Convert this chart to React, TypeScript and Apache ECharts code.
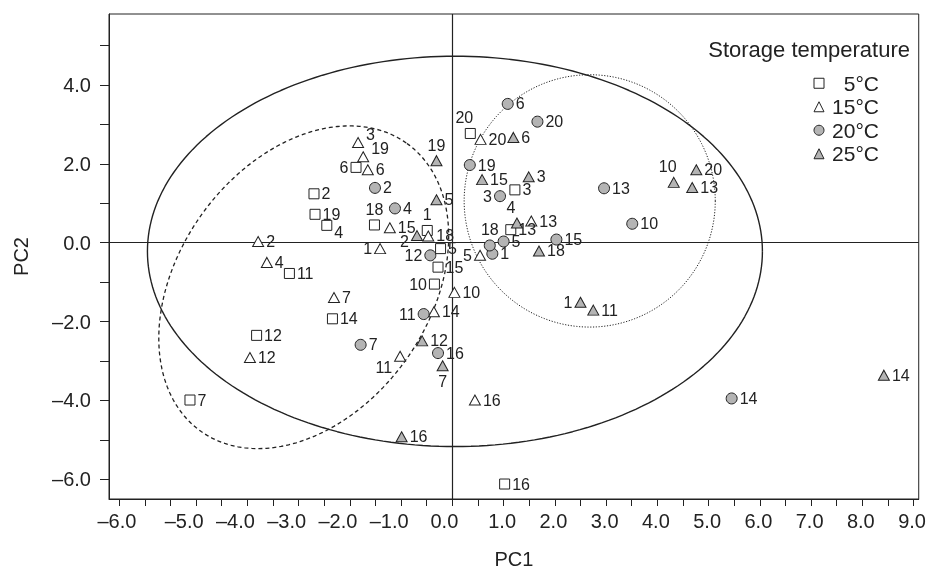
import React, { useEffect, useRef } from "react";
import * as echarts from "echarts";

// Sample numbers (same order for every storage temperature)
const SAMPLES = [1, 2, 3, 4, 5, 6, 7, 10, 11, 12, 13, 14, 15, 16, 18, 19, 20];

const PC1_5C = [-0.49, -2.7, 1.22, -2.45, -0.23, -1.88, -5.12, -0.35, -3.18, -3.82, 1.14, -2.34, -0.28, 1.02, -1.52, -2.68, 0.35];
const PC2_5C = [0.31, 1.24, 1.34, 0.44, -0.15, 1.91, -3.99, -1.05, -0.78, -2.35, 0.33, -1.93, -0.62, -6.12, 0.45, 0.72, 2.77];

const PC1_15C = [-1.41, -3.79, -1.84, -3.62, 0.54, -1.65, -2.31, 0.04, -1.02, -3.95, 1.54, -0.36, -1.22, 0.44, -0.47, -1.74, 0.55];
const PC2_15C = [-0.15, 0.03, 2.54, -0.5, -0.32, 1.85, -1.39, -1.26, -2.88, -2.91, 0.55, -1.75, 0.38, -3.99, 0.17, 2.18, 2.62];

const PC1_20C = [0.78, -1.51, 0.93, -1.12, 1.0, 1.08, -1.79, 3.51, -0.56, -0.43, 2.96, 5.45, 2.03, -0.28, 0.73, 0.34, 1.66];
const PC2_20C = [-0.28, 1.39, 1.18, 0.87, 0.03, 3.52, -2.59, 0.48, -1.81, -0.32, 1.38, -3.95, 0.08, -2.8, -0.07, 1.97, 3.07];

const PC1_25C = [2.5, -0.69, 1.49, 1.26, -0.31, 1.19, -0.19, 4.32, 2.75, -0.59, 4.68, 8.42, 0.58, -0.99, 1.69, -0.31, 4.76];
const PC2_25C = [-1.51, 0.18, 1.67, 0.5, 1.09, 2.67, -3.12, 1.53, -1.71, -2.49, 1.4, -3.36, 1.6, -4.92, -0.21, 2.08, 1.85];

const GROUPS = ["5°C", "15°C", "20°C", "25°C"];

// Axis ticks / labels
const X_TICKS = [-6.5, -6, -5.5, -5, -4.5, -4, -3.5, -3, -2.5, -2, -1.5, -1, -0.5, 0, 0.5, 1, 1.5, 2, 2.5, 3, 3.5, 4, 4.5, 5, 5.5, 6, 6.5, 7, 7.5, 8, 8.5, 9];
const X_LABELS = [-6, -5, -4, -3, -2, -1, 0, 1, 2, 3, 4, 5, 6, 7, 8, 9];
const Y_TICKS = [-6, -5, -4, -3, -2, -1, 0, 1, 2, 3, 4, 5];
const Y_LABELS = [-6, -4, -2, 0, 2, 4];

// Confidence ellipses: centre and two conjugate semi-axis vectors (data units)
const ELLIPSE_ALL = { cx: 0.05, cy: -0.22, ux: 6.0, uy: 0, vx: 0, vy: 4.95 };
const ELLIPSE_LEFT = { cx: -2.9, cy: -1.13, ux: 2.0, uy: 3.66, vx: -2.0, vy: 1.83 };
const ELLIPSE_RIGHT = { cx: 2.68, cy: 1.06, ux: 2.45, uy: 0, vx: 0, vy: 3.2 };

// label placement per group/sample (default: right)
const LABEL_PLACE: Record<string, Record<number, string>> = {
  "5°C": { 1: "top", 4: "bottomRight", 6: "left", 10: "left", 18: "top", 20: "topLeft" },
  "15°C": { 1: "left", 3: "topRight", 5: "left", 11: "bottomLeft", 19: "topRight" },
  "20°C": { 3: "left", 11: "left", 12: "left", 18: "top" },
  "25°C": { 1: "left", 2: "lowLeft", 4: "topLeft", 7: "bottom", 10: "topLeft", 19: "top" },
};

const FONT = "'Liberation Sans', Arial, Helvetica, sans-serif";
const INK = "#222";

function ellipsePoints(e: { cx: number; cy: number; ux: number; uy: number; vx: number; vy: number }) {
  const pts: number[][] = [];
  const n = 240;
  for (let i = 0; i <= n; i++) {
    const t = (i / n) * Math.PI * 2;
    pts.push([e.cx + e.ux * Math.cos(t) + e.vx * Math.sin(t), e.cy + e.uy * Math.cos(t) + e.vy * Math.sin(t)]);
  }
  return pts;
}

function placeStyle(p: string | undefined) {
  switch (p) {
    case "left":
      return { position: "left" };
    case "top":
      return { position: "top" };
    case "bottom":
      return { position: "bottom" };
    case "topLeft":
      return { position: "top", offset: [-6, 0] };
    case "topRight":
      return { position: "right", offset: [0, -8] };
    case "bottomLeft":
      return { position: "left", offset: [0, 11] };
    case "lowLeft":
      return { position: "left", offset: [0, 6] };
    case "bottomRight":
      return { position: "right", offset: [0, 7] };
    default:
      return { position: "right" };
  }
}

function fmtNum(v: number) {
  const s = Math.abs(v).toFixed(1);
  return v < 0 ? "\u2013" + s : s;
}

// x labels of the reference sit a little left of their ticks
function fmtX(v: number) {
  const t = fmtNum(v);
  if (v <= -6) return `{f|${t}}`;
  if (v < 0) return `{n|${t}}`;
  if (v === 0) return `{z|${t}}`;
  return `{p|${t}}`;
}

export default function App() {
  const ref = useRef<HTMLDivElement>(null);

  useEffect(() => {
    if (!ref.current) return;
    const chart = echarts.init(ref.current, undefined, { renderer: "svg" });

    const xs = [PC1_5C, PC1_15C, PC1_20C, PC1_25C];
    const ys = [PC2_5C, PC2_15C, PC2_20C, PC2_25C];
    const symbols = ["rect", "triangle", "circle", "triangle"];
    const sizes: any[] = [10, [11, 10], 11, [11, 10]];
    const fills = ["#ffffff", "#ffffff", "#b4b4b4", "#b4b4b4"];

    const scatterSeries = GROUPS.map((g, gi) => ({
      name: g,
      type: "scatter",
      symbol: symbols[gi],
      symbolSize: sizes[gi],
      z: 5,
      itemStyle: { color: fills[gi], borderColor: INK, borderWidth: 1, opacity: 1 },
      data: SAMPLES.map((s, i) => ({
        value: [xs[gi][i], ys[gi][i]],
        name: String(s),
        label: { show: true, ...placeStyle(LABEL_PLACE[g][s]) },
      })),
      label: {
        show: true,
        formatter: (p: any) => p.name,
        fontSize: 16,
        fontFamily: FONT,
        color: INK,
        distance: 2,
      },
      emphasis: { disabled: true },
    }));

    const ellipseSeries = [
      { e: ELLIPSE_ALL, type: "solid", width: 1.4 },
      { e: ELLIPSE_LEFT, type: [4, 3], width: 1.3 },
      { e: ELLIPSE_RIGHT, type: [1.2, 1.6], width: 1 },
    ].map((el, i) => ({
      name: "ellipse" + i,
      type: "line",
      data: ellipsePoints(el.e),
      showSymbol: false,
      symbol: "none",
      silent: true,
      z: 2,
      lineStyle: { color: INK, width: el.width, type: el.type as any },
      ...(i === 0
        ? {
            markLine: {
              silent: true,
              symbol: "none",
              label: { show: false },
              lineStyle: { color: INK, width: 1.2, type: "solid" },
              data: [{ xAxis: 0 }, { yAxis: 0 }],
            },
          }
        : {}),
    }));

    const xRich = {
      f: { fontSize: 20, fontFamily: FONT, color: INK, padding: [0, 56, 0, 0] },
      n: { fontSize: 20, fontFamily: FONT, color: INK, padding: [0, 24, 0, 0] },
      z: { fontSize: 20, fontFamily: FONT, color: INK, padding: [0, 16, 0, 0] },
      p: { fontSize: 20, fontFamily: FONT, color: INK, padding: [0, 3, 0, 0] },
    };

    chart.setOption({
      animation: false,
      textStyle: { fontFamily: FONT },
      grid: { left: 109, right: 10, top: 14, bottom: 72, show: true, borderColor: INK, borderWidth: 1 },
      title: {
        text: "Storage temperature",
        right: 14,
        top: 33,
        textStyle: { fontSize: 22, fontWeight: "normal", color: INK, fontFamily: FONT },
      },
      legend: {
        data: GROUPS,
        orient: "vertical",
        right: 45,
        top: 67,
        itemWidth: 10,
        itemHeight: 10,
        itemGap: 1,
        formatter: (n: string) => `{t|${n}}`,
        textStyle: {
          color: INK,
          fontFamily: FONT,
          fontSize: 21,
          lineHeight: 22.5,
          rich: { t: { width: 50, align: "right", fontSize: 21, fontFamily: FONT, color: INK, lineHeight: 22.5 } },
        },
        itemStyle: { borderColor: INK, borderWidth: 1 },
        selectedMode: false,
      },
      xAxis: {
        type: "value",
        min: -6.7,
        max: 9.1,
        name: "PC1",
        nameLocation: "middle",
        nameGap: 50,
        nameTextStyle: { fontSize: 20, color: INK, fontFamily: FONT },
        axisLine: { show: true, onZero: false, lineStyle: { color: INK } },
        axisTick: { show: true, length: 7, lineStyle: { color: INK }, customValues: X_TICKS },
        axisLabel: {
          fontSize: 20,
          color: INK,
          margin: 12,
          customValues: X_LABELS,
          formatter: fmtX,
          rich: xRich,
        },
        splitLine: { show: false },
      },
      yAxis: {
        type: "value",
        min: -6.5,
        max: 5.8,
        name: "PC2",
        nameLocation: "middle",
        nameGap: 78,
        nameTextStyle: { fontSize: 20, color: INK, fontFamily: FONT },
        axisLine: { show: true, onZero: false, lineStyle: { color: INK } },
        axisTick: { show: true, length: 9, lineStyle: { color: INK }, customValues: Y_TICKS },
        axisLabel: { fontSize: 20, color: INK, margin: 18, customValues: Y_LABELS, formatter: fmtNum },
        splitLine: { show: false },
      },
      series: [...ellipseSeries, ...scatterSeries],
    });

    return () => chart.dispose();
  }, []);

  return <div ref={ref} style={{ position: "fixed", left: 0, top: 0, width: 929, height: 574 }} />;
}
